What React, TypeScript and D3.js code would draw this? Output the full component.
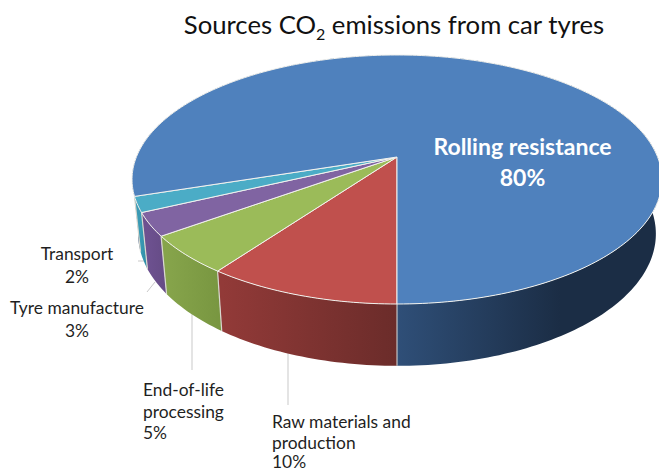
import React from "react";
import * as d3 from "d3";

const categories = ["Raw materials and production", "End-of-life processing", "Tyre manufacture", "Transport", "Rolling resistance"];
const shares = [10, 5, 3, 2, 80];
const topColours = ["#c0504d", "#9bbb59", "#8064a2", "#4bacc6", "#4f81bd"];
const wallFrom = ["#923a38", "#86a44b", "#6d5190", "#3a9ab4", "#2f4f78"];
const wallTo = ["#6b2c2a", "#789640", "#654b85", "#2f8ca4", "#1b2d45"];

const WIDTH = 659;
const HEIGHT = 472;

// Perspective of the disc: u runs left to right, v runs from the back (-1) to the front (+1).
const CX = 397;
const CY = 157;
const RADIUS = 260.6;
const LIFT = 92.07;
const KEYSTONE = -0.1807;
const DROP = 53;
const BASE_SCALE_X = 0.977;
const BASE_SCALE_Y = 1.06;

const topPoint = (a: number): [number, number] => {
  const u = Math.sin(a);
  const v = -Math.cos(a);
  const w = 1 + KEYSTONE * v;
  return [CX + (RADIUS * u) / w, (CY + LIFT * v) / w];
};

const basePoint = (a: number): [number, number] => {
  const [x, y] = topPoint(a);
  return [CX + BASE_SCALE_X * (x - CX), CY + DROP + BASE_SCALE_Y * (y - CY)];
};

const line = d3.line<[number, number]>();
const pie = d3
  .pie<number>()
  .sort(null)
  .startAngle(Math.PI)
  .endAngle(3 * Math.PI);
const arcs = pie(shares);

const sample = (start: number, end: number) => {
  const n = Math.max(4, Math.ceil(Math.abs(end - start) / 0.02));
  return d3.range(n + 1).map((i) => start + ((end - start) * i) / n);
};

const sans = "Lato, Carlito, 'Open Sans', sans-serif";
const ink = "#1f1f1f";
const leaderColour = "#c9c9c9";

const leaders: [number, number, number, number][] = [
  [288, 349, 288, 405],
  [192, 310, 192, 370],
  [155, 282, 147, 292],
  [138, 261, 145, 261],
];

export default function App() {
  return (
    <svg
      width={WIDTH}
      height={HEIGHT}
      viewBox={`0 0 ${WIDTH} ${HEIGHT}`}
      style={{ position: "fixed", left: 0, top: 0, background: "#fff" }}
      fontFamily={sans}
    >
      <defs>
        {arcs.map((d, i) => {
          const xs = sample(d.startAngle, d.endAngle).map((a) => basePoint(a)[0]);
          // The large slice only shows its wall from the front centre to the right side.
          const x0 = i === 4 ? CX : d3.min(xs)!;
          const x1 = i === 4 ? 560 : d3.max(xs)!;
          return (
            <linearGradient key={i} id={`wall-${i}`} gradientUnits="userSpaceOnUse" x1={x0} x2={x1} y1={0} y2={0}>
              <stop offset="0" stopColor={wallFrom[i]} />
              <stop offset="1" stopColor={wallTo[i]} />
            </linearGradient>
          );
        })}
      </defs>

      {leaders.map(([x1, y1, x2, y2], i) => (
        <line key={i} x1={x1} y1={y1} x2={x2} y2={y2} stroke={leaderColour} strokeWidth={1} />
      ))}

      {/* Outer walls, back to front so the front slices overlap their neighbours */}
      {[4, 3, 2, 1, 0].map((i) => {
        const d = arcs[i];
        const angles = sample(d.startAngle, d.endAngle);
        const outline = [...angles.map(topPoint), ...angles.slice().reverse().map(basePoint)];
        return <path key={i} d={line(outline)! + "Z"} fill={`url(#wall-${i})`} stroke="none" />;
      })}

      {/* Bright seams where the slices meet on the wall */}
      {arcs.slice(0, 4).map((d, i) => (
        <path key={i} d={line([topPoint(d.endAngle), basePoint(d.endAngle)])!} stroke="#d8d8d0" strokeWidth={1.2} fill="none" />
      ))}
      <path d={line([topPoint(Math.PI), basePoint(Math.PI)])!} stroke="#c4c4c4" strokeWidth={1.2} fill="none" />

      {/* Top face */}
      {arcs.map((d, i) => {
        const rim = sample(d.startAngle, d.endAngle).map(topPoint);
        return (
          <path
            key={i}
            d={line([[CX, CY], ...rim])! + "Z"}
            fill={topColours[i]}
            stroke="#f2f2ee"
            strokeWidth={1}
            strokeLinejoin="round"
          />
        );
      })}

      <text x={394} y={34} textAnchor="middle" fontSize={25.7} fill="#111">
        Sources CO<tspan fontSize={16} dy={6}>2</tspan>
        <tspan dy={-6}> emissions from car tyres</tspan>
      </text>

      <g fill="#fff" fontWeight={700} fontSize={23} textAnchor="middle">
        <text x={522.5} y={155}>{categories[4]}</text>
        <text x={522.5} y={186}>{shares[4]}%</text>
      </g>

      <g fill={ink} fontSize={17.4}>
        <g textAnchor="middle">
          <text x={77} y={260}>{categories[3]}</text>
          <text x={77} y={283}>{shares[3]}%</text>
          <text x={77} y={314}>{categories[2]}</text>
          <text x={77} y={337}>{shares[2]}%</text>
        </g>
        <text x={143} y={396}>End-of-life</text>
        <text x={143} y={418}>processing</text>
        <text x={143} y={439}>{shares[1]}%</text>
        <text x={272} y={428}>Raw materials and</text>
        <text x={272} y={449}>production</text>
        <text x={272} y={468}>{shares[0]}%</text>
      </g>
    </svg>
  );
}
